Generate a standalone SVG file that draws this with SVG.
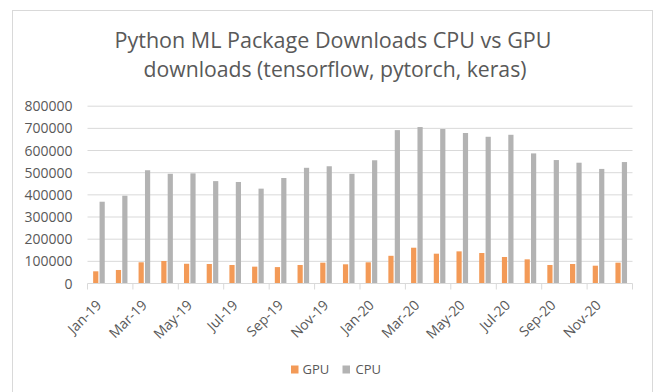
<svg xmlns="http://www.w3.org/2000/svg" width="654" height="392" viewBox="0 0 654 392">
<style>
.t{font-family:"Open Sans","Liberation Sans",sans-serif;fill:#595959}
.title{font-size:22px}
.ax{font-size:14px}
.lg{font-size:13px}
.grid{stroke:#D9D9D9;stroke-width:1}
.g{fill:#F39A57}
.c{fill:#B3B3B3}
</style>
<rect x="0" y="0" width="654" height="392" fill="#FFFFFF"/>
<rect id="frame" x="12.5" y="10.5" width="640" height="400" fill="none" stroke="#D9D9D9" stroke-width="1"/>
<g id="title" class="t title" text-anchor="middle">
<text x="333" y="48" textLength="437" lengthAdjust="spacingAndGlyphs">Python ML Package Downloads CPU vs GPU</text>
<text x="335" y="77" textLength="383" lengthAdjust="spacingAndGlyphs">downloads (tensorflow, pytorch, keras)</text>
</g>
<g id="gridlines" class="grid">
<line x1="87.5" y1="261.34" x2="632.5" y2="261.34"/>
<line x1="87.5" y1="239.18" x2="632.5" y2="239.18"/>
<line x1="87.5" y1="217.01" x2="632.5" y2="217.01"/>
<line x1="87.5" y1="194.85" x2="632.5" y2="194.85"/>
<line x1="87.5" y1="172.69" x2="632.5" y2="172.69"/>
<line x1="87.5" y1="150.53" x2="632.5" y2="150.53"/>
<line x1="87.5" y1="128.36" x2="632.5" y2="128.36"/>
<line x1="87.5" y1="106.2" x2="632.5" y2="106.2"/>
</g>
<g id="y-labels" class="t ax" text-anchor="end">
<text x="72.5" y="288.5">0</text>
<text x="72.5" y="266.3" textLength="48" lengthAdjust="spacingAndGlyphs">100000</text>
<text x="72.5" y="244.2" textLength="48" lengthAdjust="spacingAndGlyphs">200000</text>
<text x="72.5" y="222" textLength="48" lengthAdjust="spacingAndGlyphs">300000</text>
<text x="72.5" y="199.9" textLength="48" lengthAdjust="spacingAndGlyphs">400000</text>
<text x="72.5" y="177.7" textLength="48" lengthAdjust="spacingAndGlyphs">500000</text>
<text x="72.5" y="155.5" textLength="48" lengthAdjust="spacingAndGlyphs">600000</text>
<text x="72.5" y="133.4" textLength="48" lengthAdjust="spacingAndGlyphs">700000</text>
<text x="72.5" y="111.2" textLength="48" lengthAdjust="spacingAndGlyphs">800000</text>
</g>
<g id="gpu-bars" class="g">
<rect x="93.15" y="271.31" width="5.2" height="12.19"/>
<rect x="115.86" y="269.98" width="5.2" height="13.52"/>
<rect x="138.57" y="262.31" width="5.2" height="21.19"/>
<rect x="161.28" y="261.00" width="5.2" height="22.50"/>
<rect x="183.99" y="263.77" width="5.2" height="19.73"/>
<rect x="206.69" y="264.00" width="5.2" height="19.50"/>
<rect x="229.40" y="264.99" width="5.2" height="18.51"/>
<rect x="252.11" y="266.66" width="5.2" height="16.84"/>
<rect x="274.82" y="267.10" width="5.2" height="16.40"/>
<rect x="297.53" y="264.99" width="5.2" height="18.51"/>
<rect x="320.23" y="262.67" width="5.2" height="20.83"/>
<rect x="342.94" y="264.31" width="5.2" height="19.19"/>
<rect x="365.65" y="262.31" width="5.2" height="21.19"/>
<rect x="388.36" y="255.80" width="5.2" height="27.70"/>
<rect x="411.07" y="247.71" width="5.2" height="35.79"/>
<rect x="433.78" y="253.69" width="5.2" height="29.81"/>
<rect x="456.48" y="251.36" width="5.2" height="32.14"/>
<rect x="479.19" y="253.00" width="5.2" height="30.50"/>
<rect x="501.90" y="256.99" width="5.2" height="26.51"/>
<rect x="524.61" y="259.34" width="5.2" height="24.16"/>
<rect x="547.32" y="264.99" width="5.2" height="18.51"/>
<rect x="570.02" y="264.00" width="5.2" height="19.50"/>
<rect x="592.73" y="265.70" width="5.2" height="17.80"/>
<rect x="615.44" y="262.67" width="5.2" height="20.83"/>
</g>
<g id="cpu-bars" class="c">
<rect x="99.55" y="201.72" width="5.2" height="81.78"/>
<rect x="122.26" y="195.73" width="5.2" height="87.77"/>
<rect x="144.97" y="170.25" width="5.2" height="113.25"/>
<rect x="167.68" y="173.79" width="5.2" height="109.71"/>
<rect x="190.39" y="173.35" width="5.2" height="110.15"/>
<rect x="213.09" y="181.11" width="5.2" height="102.39"/>
<rect x="235.80" y="181.99" width="5.2" height="101.51"/>
<rect x="258.51" y="188.64" width="5.2" height="94.86"/>
<rect x="281.22" y="178.00" width="5.2" height="105.50"/>
<rect x="303.93" y="167.81" width="5.2" height="115.69"/>
<rect x="326.63" y="166.26" width="5.2" height="117.24"/>
<rect x="349.34" y="173.79" width="5.2" height="109.71"/>
<rect x="372.05" y="160.27" width="5.2" height="123.23"/>
<rect x="394.76" y="130.13" width="5.2" height="153.37"/>
<rect x="417.47" y="127.03" width="5.2" height="156.47"/>
<rect x="440.18" y="129.02" width="5.2" height="154.48"/>
<rect x="462.88" y="133.01" width="5.2" height="150.49"/>
<rect x="485.59" y="136.78" width="5.2" height="146.72"/>
<rect x="508.30" y="134.79" width="5.2" height="148.71"/>
<rect x="531.01" y="153.40" width="5.2" height="130.10"/>
<rect x="553.72" y="160.05" width="5.2" height="123.45"/>
<rect x="576.42" y="162.71" width="5.2" height="120.79"/>
<rect x="599.13" y="168.92" width="5.2" height="114.58"/>
<rect x="621.84" y="162.05" width="5.2" height="121.45"/>
</g>
<g id="x-axis" class="grid">
<line x1="87.5" y1="283.5" x2="632.5" y2="283.5"/>
<line x1="87.5" y1="283.5" x2="87.5" y2="289.5"/>
<line x1="132.9" y1="283.5" x2="132.9" y2="289.5"/>
<line x1="178.3" y1="283.5" x2="178.3" y2="289.5"/>
<line x1="223.7" y1="283.5" x2="223.7" y2="289.5"/>
<line x1="269.2" y1="283.5" x2="269.2" y2="289.5"/>
<line x1="314.6" y1="283.5" x2="314.6" y2="289.5"/>
<line x1="360.0" y1="283.5" x2="360.0" y2="289.5"/>
<line x1="405.4" y1="283.5" x2="405.4" y2="289.5"/>
<line x1="450.8" y1="283.5" x2="450.8" y2="289.5"/>
<line x1="496.3" y1="283.5" x2="496.3" y2="289.5"/>
<line x1="541.7" y1="283.5" x2="541.7" y2="289.5"/>
<line x1="587.1" y1="283.5" x2="587.1" y2="289.5"/>
<line x1="632.5" y1="283.5" x2="632.5" y2="289.5"/>
</g>
<g id="x-labels" class="t ax" text-anchor="end">
<text transform="translate(102.45 306) rotate(-45)">Jan-19</text>
<text transform="translate(147.87 306) rotate(-45)">Mar-19</text>
<text transform="translate(193.29 306) rotate(-45)">May-19</text>
<text transform="translate(238.70 306) rotate(-45)">Jul-19</text>
<text transform="translate(284.12 306) rotate(-45)">Sep-19</text>
<text transform="translate(329.53 306) rotate(-45)">Nov-19</text>
<text transform="translate(374.95 306) rotate(-45)">Jan-20</text>
<text transform="translate(420.37 306) rotate(-45)">Mar-20</text>
<text transform="translate(465.78 306) rotate(-45)">May-20</text>
<text transform="translate(511.20 306) rotate(-45)">Jul-20</text>
<text transform="translate(556.62 306) rotate(-45)">Sep-20</text>
<text transform="translate(602.03 306) rotate(-45)">Nov-20</text>
</g>
<g id="legend">
<rect class="g" x="291" y="365.5" width="7.5" height="8"/>
<text class="t lg" x="302.5" y="374">GPU</text>
<rect class="c" x="342.5" y="365.5" width="7.5" height="8"/>
<text class="t lg" x="355.5" y="374">CPU</text>
</g>
</svg>
